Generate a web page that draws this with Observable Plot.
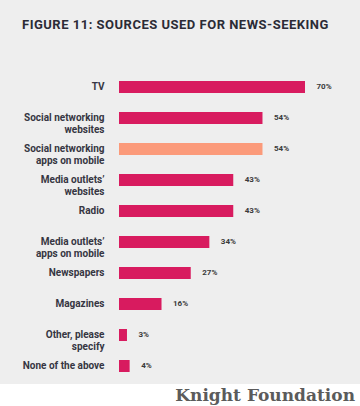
<!DOCTYPE html>
<html><head><meta charset="utf-8">
<script src="https://cdn.jsdelivr.net/npm/d3@7"></script>
<script src="https://cdn.jsdelivr.net/npm/@observablehq/plot@0.6"></script>
<style>
html,body{margin:0;padding:0;background:#fff;}
#wrap{position:relative;width:360px;height:406px;overflow:hidden;background:#fff;}
#panel{position:absolute;left:0;top:0;width:360px;height:384px;background:#eeeeee;}
#title{position:absolute;left:22px;top:17px;font-family:Roboto,sans-serif;font-weight:700;font-size:13px;color:#2b2b36;white-space:nowrap;letter-spacing:0.5px;}
#chart{position:absolute;left:0;top:0;}
#footer{position:absolute;left:0;width:355px;text-align:right;top:385px;font-family:"DejaVu Serif",serif;font-weight:700;font-size:17px;color:#5b5b5b;}
</style></head>
<body><div id="wrap"><div id="panel"></div><div id="title">FIGURE 11: SOURCES USED FOR NEWS-SEEKING</div><div id="chart"></div><div id="footer">Knight Foundation</div></div>
<script>
const categories = ["TV","Social networking\nwebsites","Social networking\napps on mobile","Media outlets’\nwebsites","Radio","Media outlets’\napps on mobile","Newspapers","Magazines","Other, please\nspecify","None of the above"];
const values = [70,54,54,43,43,34,27,16,3,4];
const highlighted = [false,false,true,false,false,false,false,false,false,false];
const data = categories.map((c,i)=>({cat:c,value:values[i],hl:highlighted[i]}));

const chart = Plot.plot({
  width: 360, height: 384,
  marginLeft: 119, marginRight: 55, marginTop: 69.8, marginBottom: 0,
  style: {background: "transparent", fontFamily: "Roboto, sans-serif"},
  x: {domain: [0, 70], range: [119, 305], axis: null},
  y: {domain: categories, paddingInner: 0.6, paddingOuter: 0.3, axis: null},
  color: {domain: [false, true], range: ["#d81b5f", "#fb9a7a"]},
  marks: [
    Plot.barX(data, {x: "value", y: "cat", fill: "hl"}),
    Plot.text(data, {x: 0, y: "cat", text: "cat", textAnchor: "end", lineAnchor: "top", dx: -15, dy: -5.5, lineHeight: 1.15, fontSize: 10, fontWeight: 700, fill: "#363642"}),
    Plot.text(data, {x: "value", y: "cat", text: d => d.value + "%", textAnchor: "start", dx: 11, dy: -1, fontSize: 8, fontWeight: 700, fill: "#3a3a3a"})
  ]
});
document.getElementById("chart").appendChild(chart);
</script></body></html>
